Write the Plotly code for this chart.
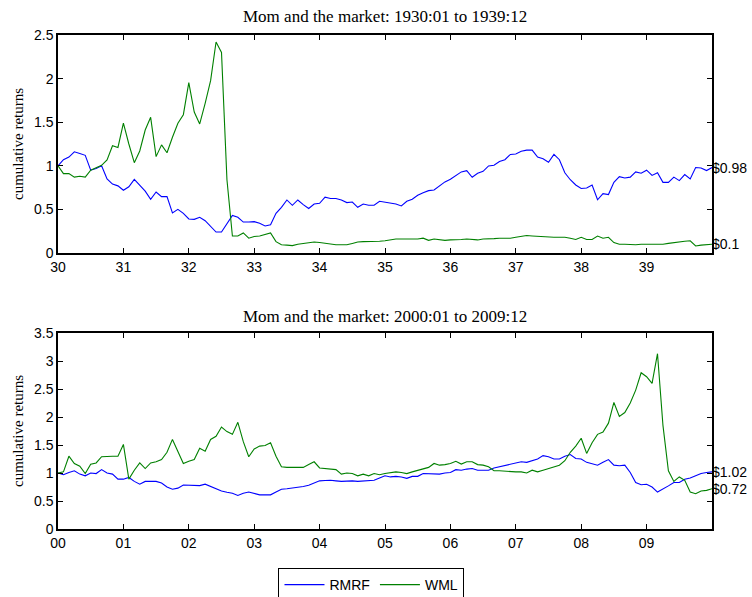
import numpy as np
import plotly.graph_objects as go

# ---------------- data (cumulative returns, monthly, starting at 1) ----------------
rmrf_1930s = [1.00, 1.07, 1.10, 1.16, 1.14, 1.12, 0.95, 0.97, 1.00, 0.85,
              0.79, 0.77, 0.72, 0.76, 0.845, 0.78, 0.71, 0.615, 0.70, 0.646,
              0.646, 0.46, 0.50, 0.455, 0.39, 0.386, 0.41, 0.37, 0.30, 0.24,
              0.24, 0.33, 0.43, 0.41, 0.355, 0.355, 0.36, 0.34, 0.31, 0.325,
              0.455, 0.524, 0.608, 0.547, 0.608, 0.555, 0.51, 0.562, 0.57, 0.64,
              0.625, 0.625, 0.608, 0.578, 0.585, 0.524, 0.562, 0.547, 0.547, 0.593,
              0.585, 0.578, 0.562, 0.54, 0.593, 0.616, 0.662, 0.692, 0.715, 0.723,
              0.769, 0.815, 0.845, 0.891, 0.93, 0.945, 0.868, 0.914, 0.937, 0.998,
              1.006, 1.05, 1.07, 1.13, 1.135, 1.166, 1.18, 1.18, 1.10, 1.08,
              1.04, 1.13, 1.07, 0.92, 0.84, 0.78, 0.74, 0.745, 0.78, 0.61,
              0.68, 0.67, 0.81, 0.875, 0.86, 0.87, 0.93, 0.915, 0.95, 0.89,
              0.92, 0.81, 0.81, 0.87, 0.83, 0.90, 0.85, 0.98, 0.975, 0.945,
              0.98]

wml_1930s = [1.00, 0.91, 0.91, 0.87, 0.88, 0.87, 0.95, 0.975, 1.005, 1.067,
             1.23, 1.21, 1.49, 1.25, 1.036, 1.17, 1.41, 1.556, 1.105, 1.24,
             1.15, 1.327, 1.487, 1.586, 1.953, 1.617, 1.48, 1.716, 1.976, 2.42,
             2.30, 0.84, 0.195, 0.195, 0.23, 0.17, 0.19, 0.195, 0.21, 0.23,
             0.13, 0.095, 0.09, 0.085, 0.10, 0.11, 0.12, 0.126, 0.12, 0.11,
             0.10, 0.095, 0.095, 0.095, 0.11, 0.126, 0.13, 0.13, 0.13, 0.135,
             0.14, 0.15, 0.16, 0.16, 0.16, 0.155, 0.16, 0.17, 0.145, 0.16,
             0.155, 0.145, 0.15, 0.15, 0.155, 0.16, 0.155, 0.15, 0.16, 0.16,
             0.165, 0.17, 0.17, 0.17, 0.18, 0.19, 0.20, 0.195, 0.19, 0.186,
             0.185, 0.18, 0.18, 0.18, 0.17, 0.155, 0.18, 0.155, 0.155, 0.195,
             0.17, 0.18, 0.12, 0.10, 0.10, 0.095, 0.095, 0.10, 0.10, 0.10,
             0.10, 0.10, 0.11, 0.12, 0.13, 0.135, 0.14, 0.08, 0.09, 0.095,
             0.10]

rmrf_2000s = [1.00, 0.97, 1.01, 1.04, 0.98, 0.95, 1.00, 0.99, 1.06, 1.00,
              0.98, 0.89, 0.89, 0.92, 0.85, 0.80, 0.85, 0.85, 0.85, 0.82,
              0.75, 0.71, 0.73, 0.785, 0.785, 0.785, 0.775, 0.80, 0.76, 0.73,
              0.68, 0.655, 0.64, 0.60, 0.64, 0.66, 0.63, 0.61, 0.61, 0.61,
              0.66, 0.71, 0.72, 0.73, 0.745, 0.76, 0.78, 0.82, 0.86, 0.865,
              0.87, 0.86, 0.85, 0.855, 0.86, 0.85, 0.86, 0.87, 0.87, 0.91,
              0.95, 0.93, 0.94, 0.93, 0.905, 0.94, 0.94, 0.99, 0.99, 0.99,
              0.98, 1.00, 1.01, 1.06, 1.05, 1.07, 1.08, 1.05, 1.05, 1.05,
              1.09, 1.11, 1.14, 1.16, 1.18, 1.20, 1.19, 1.22, 1.25, 1.31,
              1.29, 1.25, 1.25, 1.30, 1.33, 1.26, 1.25, 1.19, 1.17, 1.14,
              1.19, 1.24, 1.14, 1.13, 1.14, 1.01, 0.83, 0.79, 0.80, 0.75,
              0.66, 0.71, 0.77, 0.83, 0.83, 0.89, 0.91, 0.95, 0.99, 1.01,
              1.02]

wml_2000s = [1.00, 1.02, 1.30, 1.17, 1.12, 0.99, 1.155, 1.18, 1.29, 1.30,
             1.30, 1.30, 1.51, 0.89, 1.05, 1.18, 1.08, 1.18, 1.20, 1.24,
             1.37, 1.60, 1.38, 1.17, 1.21, 1.24, 1.44, 1.39, 1.60, 1.655,
             1.82, 1.74, 1.69, 1.905, 1.56, 1.29, 1.43, 1.48, 1.49, 1.54,
             1.30, 1.11, 1.10, 1.10, 1.09, 1.10, 1.15, 1.20, 1.09, 1.08,
             1.07, 1.06, 0.98, 1.00, 0.99, 0.95, 0.98, 0.95, 0.99, 0.97,
             0.99, 1.00, 1.02, 1.01, 0.99, 1.02, 1.05, 1.07, 1.10, 1.17,
             1.14, 1.15, 1.17, 1.21, 1.16, 1.20, 1.20, 1.15, 1.14, 1.11,
             1.04, 1.04, 1.03, 1.02, 1.02, 1.02, 1.00, 1.05, 1.02, 1.05,
             1.08, 1.11, 1.14, 1.22, 1.37, 1.48, 1.62, 1.35, 1.54, 1.69,
             1.73, 1.89, 2.26, 2.01, 2.08, 2.25, 2.48, 2.79, 2.72, 2.60,
             3.13, 1.85, 1.04, 0.85, 0.93, 0.87, 0.66, 0.63, 0.68, 0.69,
             0.72]

start_1930s = 1930
start_2000s = 2000
top_ticks = ["30", "31", "32", "33", "34", "35", "36", "37", "38", "39"]
bot_ticks = ["00", "01", "02", "03", "04", "05", "06", "07", "08", "09"]
top_yticks = [0, 0.5, 1, 1.5, 2, 2.5]
bot_yticks = [0, 0.5, 1, 1.5, 2, 2.5, 3, 3.5]
end_labels_top = ["$0.98", "$0.1"]
end_labels_bot = ["$1.02", "$0.72"]

# ---------------- figure ----------------
x_top = start_1930s + np.arange(len(rmrf_1930s)) / 12.0
x_bot = start_2000s + np.arange(len(rmrf_2000s)) / 12.0

BLUE = "#0000ff"
GREEN = "#008000"
SANS = "Liberation Sans, Arial, sans-serif"
SERIF = "Liberation Serif, Times New Roman, serif"

fig = go.Figure()
fig.add_trace(go.Scatter(x=x_top, y=rmrf_1930s, mode="lines", name="RMRF",
                         line=dict(color=BLUE, width=1.1), xaxis="x", yaxis="y"))
fig.add_trace(go.Scatter(x=x_top, y=wml_1930s, mode="lines", name="WML",
                         line=dict(color=GREEN, width=1.1), xaxis="x", yaxis="y"))
fig.add_trace(go.Scatter(x=x_bot, y=rmrf_2000s, mode="lines", name="RMRF",
                         line=dict(color=BLUE, width=1.1), xaxis="x2", yaxis="y2",
                         showlegend=False))
fig.add_trace(go.Scatter(x=x_bot, y=wml_2000s, mode="lines", name="WML",
                         line=dict(color=GREEN, width=1.1), xaxis="x2", yaxis="y2",
                         showlegend=False))

W, H = 752, 597
x_dom = [58 / W, 712 / W]
top_dom = [(H - 253) / H, (H - 35) / H]
bot_dom = [(H - 529) / H, (H - 333) / H]

axis_common = dict(showline=True, linecolor="black", linewidth=1.5, mirror="ticks",
                   ticks="inside", ticklen=5, tickwidth=1, tickcolor="black",
                   showgrid=False, zeroline=False, automargin=False,
                   tickfont=dict(family=SANS, size=14, color="black"))

fig.update_layout(
    width=W, height=H,
    margin=dict(l=0, r=0, t=0, b=0, pad=0, autoexpand=False),
    paper_bgcolor="white", plot_bgcolor="white",
    xaxis=dict(domain=x_dom, anchor="y", range=[start_1930s, start_1930s + 10],
               tickvals=[start_1930s + k for k in range(10)], ticktext=top_ticks,
               **axis_common),
    yaxis=dict(domain=top_dom, anchor="x", range=[0, 2.5],
               tickvals=top_yticks, ticktext=[f"{v:g}" for v in top_yticks],
               **axis_common),
    xaxis2=dict(domain=x_dom, anchor="y2", range=[start_2000s, start_2000s + 10],
                tickvals=[start_2000s + k for k in range(10)], ticktext=bot_ticks,
                **axis_common),
    yaxis2=dict(domain=bot_dom, anchor="x2", range=[0, 3.5],
                tickvals=bot_yticks, ticktext=[f"{v:g}" for v in bot_yticks],
                **axis_common),
    showlegend=True,
    legend=dict(orientation="h", x=0.494, xanchor="center", y=(H - 568) / H,
                yanchor="top", bordercolor="black", borderwidth=1,
                bgcolor="white", font=dict(family=SANS, size=14, color="black"),
                itemwidth=40),
)

annotations = []
# titles
for txt, ypx in (("Mom and the market: 1930:01 to 1939:12", 17),
                 ("Mom and the market: 2000:01 to 2009:12", 316)):
    annotations.append(dict(text=txt, xref="paper", yref="paper",
                            x=(x_dom[0] + x_dom[1]) / 2, y=(H - ypx) / H,
                            xanchor="center", yanchor="middle", showarrow=False,
                            font=dict(family=SERIF, size=17, color="black")))
# y labels
for dom in (top_dom, bot_dom):
    annotations.append(dict(text="cumulative returns", xref="paper", yref="paper",
                            x=18 / W, y=(dom[0] + dom[1]) / 2, textangle=-90,
                            xanchor="center", yanchor="middle", showarrow=False,
                            font=dict(family=SERIF, size=15, color="black")))
# end-value labels
for lab, val, yr in ((end_labels_top[0], rmrf_1930s[-1], "y"),
                     (end_labels_top[1], wml_1930s[-1], "y"),
                     (end_labels_bot[0], rmrf_2000s[-1], "y2"),
                     (end_labels_bot[1], wml_2000s[-1], "y2")):
    annotations.append(dict(text=lab, xref="paper", yref=yr, x=x_dom[1], y=val,
                            xanchor="left", yanchor="middle", showarrow=False,
                            xshift=-2,
                            font=dict(family=SANS, size=14, color="black")))
fig.update_layout(annotations=annotations)

fig.write_html("out.html")
